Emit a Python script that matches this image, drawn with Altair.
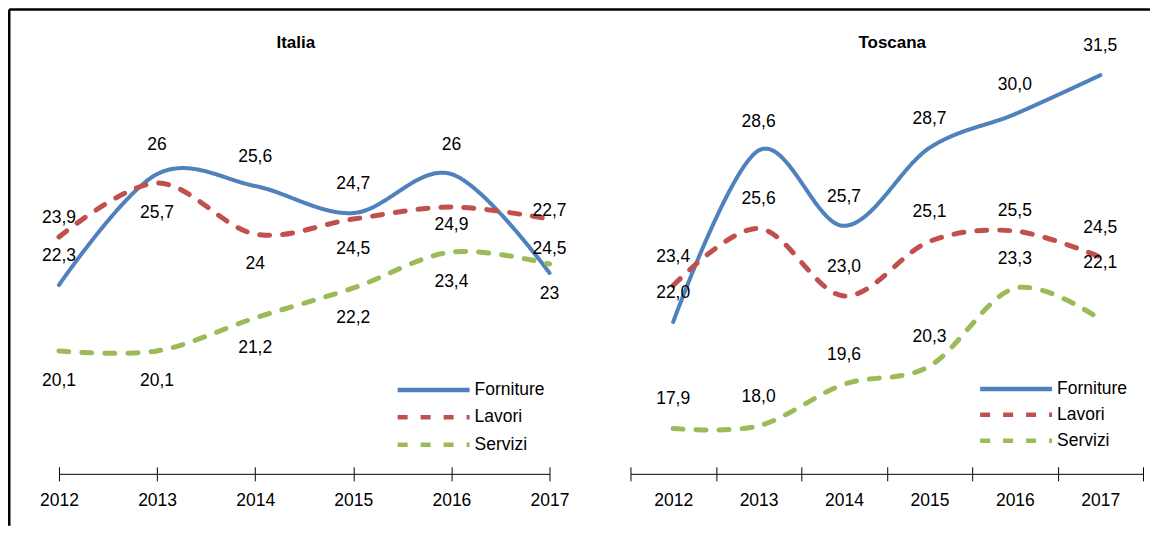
import altair as alt
import pandas as pd

# ---------------- data ----------------
years = ["2012", "2013", "2014", "2015", "2016", "2017"]
series_names = ["Forniture", "Lavori", "Servizi"]

italia_forniture = [22.3, 26.0, 25.6, 24.7, 26.0, 22.7]
italia_lavori = [23.9, 25.7, 24.0, 24.5, 24.9, 24.5]
italia_servizi = [20.1, 20.1, 21.2, 22.2, 23.4, 23.0]

toscana_forniture = [22.0, 28.6, 25.7, 28.7, 30.0, 31.5]
toscana_lavori = [23.4, 25.6, 23.0, 25.1, 25.5, 24.5]
toscana_servizi = [17.9, 18.0, 19.6, 20.3, 23.3, 22.1]

# ---------------- style ----------------
FONT = "Liberation Sans, Arial, sans-serif"
FS = 17.5
colors = ["#4F81BD", "#C0504D", "#9BBB59"]
dashes = [[1, 0], [10, 13], [10, 13]]

label_dy = {
    "Italia": {"Forniture": -29, "Lavori": 30, "Servizi": 30},
    "Toscana": {"Forniture": -29, "Lavori": -29, "Servizi": -29},
}
label_dy_special = {
    ("Italia", "Lavori", "2012"): -19,
    ("Italia", "Lavori", "2016"): 18,
    ("Italia", "Forniture", "2017"): -62,
    ("Toscana", "Lavori", "2016"): -20,
    ("Toscana", "Servizi", "2017"): -56,
}


def fmt_general(v):
    return f"{v:g}".replace(".", ",")


def fmt_one(v):
    return f"{v:.1f}".replace(".", ",")


def build(panel, values, fmt):
    rows = []
    for s, vals in zip(series_names, values):
        for yr, v in zip(years, vals):
            dy = label_dy_special.get((panel, s, yr), label_dy[panel][s])
            rows.append({"series": s, "year": yr, "value": v, "label": fmt(v), "dy": dy})
    return pd.DataFrame(rows)


df_it = build("Italia", [italia_forniture, italia_lavori, italia_servizi], fmt_general)
df_to = build("Toscana", [toscana_forniture, toscana_lavori, toscana_servizi], fmt_one)


def make_legend(lx, ly, rp):
    return alt.Legend(
        orient="none", legendX=lx, legendY=ly, title=None,
        symbolType="M-3,0H3", symbolSize=576, symbolStrokeWidth=4.5,
        symbolOffset=0, labelOffset=26.5, padding=0, rowPadding=rp,
        labelFont=FONT, labelFontSize=FS, labelColor="black",
    )


def panel(df, title, title_dx, title_offset, xscale, tick_band, ydomain, width, height,
          lx, ly, rp, extra=None):
    base = alt.Chart(df)
    yenc = alt.Y("value:Q", scale=alt.Scale(domain=ydomain, nice=False, zero=False), axis=None)
    main_axis = dict(
        orient="bottom", domain=True, domainColor="black", domainWidth=1,
        ticks=True, tickColor="black", tickSize=7, tickWidth=1,
        labels=True, labelFont=FONT, labelFontSize=FS, labelColor="black",
        labelAngle=0, labelPadding=11, grid=False, title=None,
    )
    tick_axis = dict(
        orient="bottom", domain=False, ticks=True, tickColor="black", tickSize=7,
        tickWidth=1, labels=False, grid=False, title=None, offset=-7,
    )
    if tick_band:
        main_axis["tickBand"] = "extent"
        tick_axis["tickBand"] = "extent"
    leg = make_legend(lx, ly, rp)
    lines = base.mark_line(
        interpolate="cardinal", tension=0, strokeCap="round", strokeJoin="round"
    ).encode(
        x=alt.X("year:O", scale=xscale, axis=alt.Axis(**main_axis)),
        y=yenc,
        color=alt.Color("series:N", scale=alt.Scale(domain=series_names, range=colors), legend=leg),
        strokeDash=alt.StrokeDash("series:N", scale=alt.Scale(domain=series_names, range=dashes), legend=leg),
        strokeWidth=alt.condition(alt.datum.series == "Forniture", alt.value(4), alt.value(5)),
    )
    layers = [lines]
    for i, d in enumerate(sorted(df["dy"].unique())):
        ax = alt.Axis(**tick_axis) if i == 0 else None
        layers.append(
            base.transform_filter(alt.datum.dy == int(d)).mark_text(
                font=FONT, fontSize=FS, color="black", baseline="middle", align="center", dy=int(d)
            ).encode(
                x=alt.X("year:O", scale=xscale, axis=ax),
                y=yenc,
                text="label:N",
            )
        )
    if extra:
        layers += extra
    return alt.layer(*layers).resolve_axis(x="independent").properties(
        width=width, height=height,
        view=alt.ViewBackground(stroke="transparent", strokeWidth=0, strokeOpacity=0),
        title=alt.Title(title, font=FONT, fontSize=17, fontWeight="bold", color="black",
                        anchor="middle", frame="group", baseline="middle",
                        offset=title_offset, dx=title_dx),
    )


one = pd.DataFrame({"k": [0]})
frame_v = alt.Chart(one).mark_rule(color="black", strokeWidth=2.5).encode(
    x=alt.value(-49.75), y=alt.value(-18.75), y2=alt.value(498))
frame_h = alt.Chart(one).mark_rule(color="black", strokeWidth=2.5).encode(
    x=alt.value(-49.75), x2=alt.value(1092), y=alt.value(-18.75))

PH = 446
italia = panel(df_it, "Italia", -8.5, -51.5, alt.Scale(type="point", padding=0), False,
               [16.0, 30.867], 491, PH, 360.5, 347.5, 3.5, extra=[frame_v, frame_h])
toscana = panel(df_to, "Toscana", 5.5, -31.5, alt.Scale(type="band", paddingInner=0, paddingOuter=0), True,
                [16.154, 33.308], 513, PH, 371.5, 346.5, 2)

chart = alt.hconcat(italia, toscana, spacing=81, bounds="flush").resolve_scale(
    x="independent", y="independent", color="independent", strokeDash="independent"
).resolve_legend(color="independent", strokeDash="independent").properties(
    padding=0
).configure_view(stroke="transparent", strokeWidth=0, strokeOpacity=0).configure(font=FONT)

chart.save("out.html", embed_options={"renderer": "svg", "actions": False})
